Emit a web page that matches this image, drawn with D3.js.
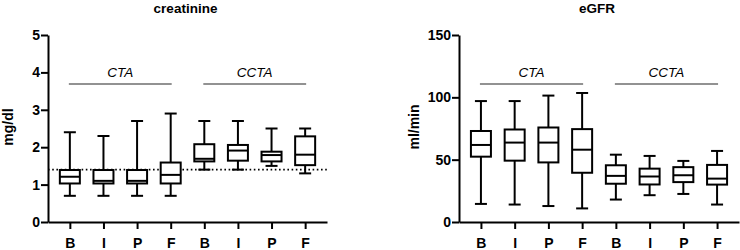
<!DOCTYPE html>
<html>
<head>
<meta charset="utf-8">
<script src="https://cdn.jsdelivr.net/npm/d3@7"></script>
<style>
  body { margin: 0; background: #fff; }
  svg text { font-family: "Liberation Sans", Arial, sans-serif; }
</style>
</head>
<body>
<div id="chart"></div>
<script>
// categories (time points), repeated for both groups
var categories = ["B", "I", "P", "F", "B", "I", "P", "F"];
var groups = ["CTA", "CCTA"];

// creatinine (mg/dl) box stats
var creatMin = [0.7, 0.7, 0.7, 0.7, 1.4, 1.4, 1.5, 1.3];
var creatQ1  = [1.03, 1.03, 1.03, 1.03, 1.62, 1.64, 1.62, 1.52];
var creatMed = [1.21, 1.1, 1.1, 1.26, 1.69, 1.91, 1.79, 1.8];
var creatQ3  = [1.39, 1.39, 1.39, 1.59, 2.08, 2.06, 1.88, 2.29];
var creatMax = [2.4, 2.3, 2.7, 2.9, 2.7, 2.7, 2.5, 2.5];
var creatTicks = [0, 1, 2, 3, 4, 5];
var creatRef = 1.4;

// eGFR (ml/min) box stats
var egfrMin = [14.5, 14, 12.8, 10.9, 18, 21.5, 22.5, 14];
var egfrQ1  = [52.4, 49.2, 47.8, 39.5, 30.7, 30.1, 32, 30];
var egfrMed = [61.8, 63.7, 63.7, 58, 37, 36.5, 37.5, 34.8];
var egfrQ3  = [73, 74.2, 75.8, 74.5, 45.5, 42.8, 44, 45.8];
var egfrMax = [97, 97, 101.4, 103.5, 54, 53, 49, 57];
var egfrTicks = [0, 50, 100, 150];

var W = 740, H = 250;
var svg = d3.select("#chart").append("svg")
    .attr("width", W)
    .attr("height", H);

function drawPanel(opt) {
    var g = svg.append("g");
    var x = d3.scalePoint()
        .domain(d3.range(categories.length))
        .range([opt.left, opt.right])
        .padding(0.65);
    var y = d3.scaleLinear()
        .domain([0, opt.max])
        .range([222, 35]);

    // title
    g.append("text")
        .attr("x", (opt.left + opt.right) / 2 - 2)
        .attr("y", 13)
        .attr("text-anchor", "middle")
        .attr("font-size", "13.5px")
        .attr("font-weight", "bold")
        .text(opt.title);

    // y label
    g.append("text")
        .attr("transform", "translate(" + opt.labelX + ",127) rotate(-90)")
        .attr("text-anchor", "middle")
        .attr("font-size", "14px")
        .attr("font-weight", "bold")
        .text(opt.ylabel);

    // axes
    var yAxis = g.append("g")
        .attr("transform", "translate(" + opt.left + ",0)")
        .call(d3.axisLeft(y).tickValues(opt.ticks).tickFormat(d3.format("d"))
            .tickSize(7).tickSizeOuter(0).tickPadding(1));
    var xAxis = g.append("g")
        .attr("transform", "translate(0," + y(0) + ")")
        .call(d3.axisBottom(x).tickSize(7).tickSizeOuter(0).tickPadding(9)
            .tickFormat(function (i) { return categories[i]; }));
    [yAxis, xAxis].forEach(function (a) {
        a.selectAll("path, line").attr("stroke", "#000").attr("stroke-width", 2);
        a.selectAll("text")
            .attr("fill", "#000")
            .attr("font-size", "14px")
            .attr("font-weight", "bold");
    });

    // reference line
    if (opt.ref != null) {
        g.append("line")
            .attr("x1", opt.left).attr("x2", opt.right)
            .attr("y1", y(opt.ref)).attr("y2", y(opt.ref))
            .attr("stroke", "#000")
            .attr("stroke-width", 1.6)
            .attr("stroke-dasharray", "1.6,2.6");
    }

    // group labels + lines
    groups.forEach(function (name, k) {
        var x0 = x(k * 4), x1 = x(k * 4 + 3);
        g.append("line")
            .attr("x1", x0 - 1).attr("x2", x1 + 1)
            .attr("y1", 84).attr("y2", 84)
            .attr("stroke", "#6e6e6e")
            .attr("stroke-width", 1.5);
        g.append("text")
            .attr("x", (x0 + x1) / 2)
            .attr("y", 76.5)
            .attr("text-anchor", "middle")
            .attr("font-size", "13.5px")
            .attr("font-style", "italic")
            .text(name);
    });

    // boxes
    var bw = 20, cw = 12;
    var box = g.selectAll(".box")
        .data(d3.range(categories.length))
        .enter().append("g")
        .attr("class", "box")
        .attr("stroke", "#000")
        .attr("stroke-width", 2)
        .attr("fill", "none");
    box.append("line")
        .attr("x1", function (i) { return x(i); })
        .attr("x2", function (i) { return x(i); })
        .attr("y1", function (i) { return y(opt.hi[i]); })
        .attr("y2", function (i) { return y(opt.q3[i]); });
    box.append("line")
        .attr("x1", function (i) { return x(i); })
        .attr("x2", function (i) { return x(i); })
        .attr("y1", function (i) { return y(opt.q1[i]); })
        .attr("y2", function (i) { return y(opt.lo[i]); });
    box.append("line")
        .attr("x1", function (i) { return x(i) - cw / 2; })
        .attr("x2", function (i) { return x(i) + cw / 2; })
        .attr("y1", function (i) { return y(opt.hi[i]); })
        .attr("y2", function (i) { return y(opt.hi[i]); });
    box.append("line")
        .attr("x1", function (i) { return x(i) - cw / 2; })
        .attr("x2", function (i) { return x(i) + cw / 2; })
        .attr("y1", function (i) { return y(opt.lo[i]); })
        .attr("y2", function (i) { return y(opt.lo[i]); });
    box.append("rect")
        .attr("x", function (i) { return x(i) - bw / 2; })
        .attr("width", bw)
        .attr("y", function (i) { return y(opt.q3[i]); })
        .attr("height", function (i) { return y(opt.q1[i]) - y(opt.q3[i]); })
        .attr("fill", "#fff");
    box.append("line")
        .attr("x1", function (i) { return x(i) - bw / 2; })
        .attr("x2", function (i) { return x(i) + bw / 2; })
        .attr("y1", function (i) { return y(opt.med[i]); })
        .attr("y2", function (i) { return y(opt.med[i]); });
}

drawPanel({
    left: 48, right: 327, max: 5, ticks: creatTicks,
    title: "creatinine", ylabel: "mg/dl", labelX: 13, ref: creatRef,
    lo: creatMin, q1: creatQ1, med: creatMed, q3: creatQ3, hi: creatMax
});
drawPanel({
    left: 459, right: 739, max: 150, ticks: egfrTicks,
    title: "eGFR", ylabel: "ml/min", labelX: 419, ref: null,
    lo: egfrMin, q1: egfrQ1, med: egfrMed, q3: egfrQ3, hi: egfrMax
});
</script>
</body>
</html>
